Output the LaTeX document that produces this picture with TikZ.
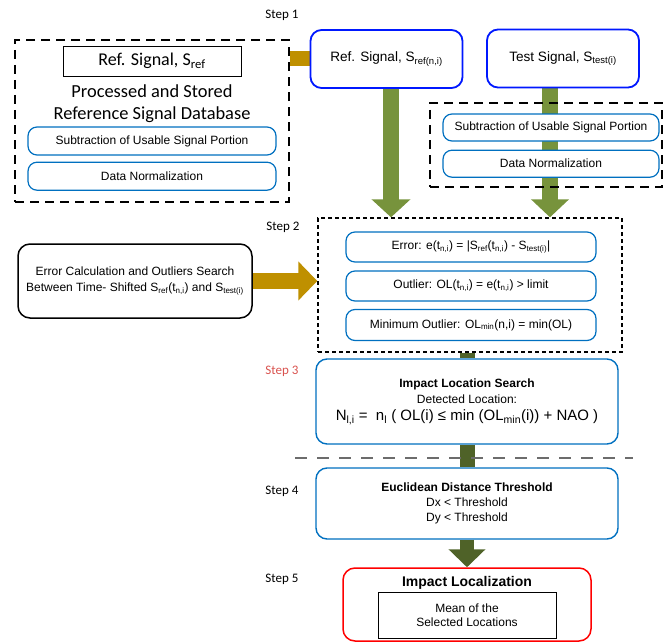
\documentclass[tikz,border=0pt]{standalone}
\usepackage{fontspec}
\setmainfont{Liberation Sans}
\newfontfamily\calfont{Carlito}
\usetikzlibrary{positioning,arrows.meta,backgrounds,calc}

\definecolor{boxblue}{RGB}{0,112,192}
\definecolor{sigblue}{RGB}{0,24,255}
\definecolor{goldbar}{RGB}{191,144,0}
\definecolor{ltgreen}{RGB}{119,147,60}
\definecolor{dkgreen}{RGB}{79,98,40}
\definecolor{steptxt}{RGB}{217,83,79}
\newcommand\sub[1]{\textsubscript{#1}}

\tikzset{
  stepbox/.style = {draw=boxblue, line width=1.2pt, rounded corners=9pt, fill=white,
                    minimum width=248pt, minimum height=28pt, inner sep=0pt,
                    font=\fontsize{12}{14}\selectfont},
  sigbox/.style  = {draw=sigblue, line width=1.8pt, rounded corners=11pt, fill=white,
                    minimum width=152pt, minimum height=58pt, inner sep=0pt,
                    font=\fontsize{13.6}{15}\selectfont},
  bigbox/.style  = {draw=boxblue, line width=1.4pt, rounded corners=11pt, fill=white,
                    minimum width=302pt, inner sep=0pt, align=center},
  dashbox/.style = {draw, line width=1.4pt, dash pattern=on 9pt off 6pt,
                    inner sep=0pt},
  steplbl/.style = {font=\calfont\fontsize{13}{14}\selectfont},
  fatshaft/.style= {line width=15pt},
}

\begin{document}
\begin{tikzpicture}[x=1pt,y=-1pt]
 \useasboundingbox (0,0) rectangle (667,642);

 % step 1
 \node[steplbl,name=lblA] at (282,15) {Step 1};
 \node[dashbox,name=dbox,minimum width=274pt,minimum height=162pt] at (152,121) {};
 \node[draw,line width=0.8pt,name=srefbox,minimum width=178pt,minimum height=30pt,
       font=\calfont\fontsize{18}{19}\selectfont] at (152,61) {Ref. Signal, S\sub{ref}};
 \node[name=dbtitle,align=center,font=\calfont\fontsize{18.4}{22}\selectfont] at (152,104)
      {Processed and Stored\\Reference Signal Database};
 \node[stepbox,name=subl] at (152,141) {Subtraction of Usable Signal Portion};
 \node[stepbox,name=norml,below=6pt of subl] {Data Normalization};

 \node[sigbox,name=refsig ] at (386.5,59) {Ref. Signal, S\sub{ref(n,i)}};
 \node[sigbox,name=testsig] at (563,58.5) {Test Signal, S\sub{test(i)}};
 \node[dashbox,name=tbox,minimum width=232pt,minimum height=84pt] at (546,145) {};
 \node[stepbox,name=subr,minimum width=216pt,minimum height=27pt] at (551,127.5)
      {Subtraction of Usable Signal Portion};
 \node[stepbox,name=normr,minimum width=216pt,minimum height=27pt,below=8pt of subr]
      {Data Normalization};

 % step 2
 \node[steplbl,name=lblB] at (283,227) {Step 2};
 \node[dashbox,name=stepb,dash pattern=on 4pt off 3pt,minimum width=304pt,
       minimum height=134pt] at (470,285) {};
 \node[stepbox,name=err, minimum width=250pt,minimum height=30pt] at (471,247)
      {Error: e(t\sub{n,i}) = |S\sub{ref}(t\sub{n,i}) - S\sub{test(i)}|};
 \node[stepbox,name=outl,minimum width=250pt,minimum height=30pt] at (471,286)
      {Outlier: OL(t\sub{n,i}) = e(t\sub{n,i}) > limit};
 \node[stepbox,name=minol,minimum width=250pt,minimum height=31pt] at (471,325)
      {Minimum Outlier: OL\sub{min}(n,i) = min(OL)};
 \node[draw,line width=1.5pt,rounded corners=12pt,name=errcalc,minimum width=234pt,
       minimum height=74pt,align=center,font=\fontsize{12}{16}\selectfont] at (135,281)
      {Error Calculation and Outliers Search\\Between Time- Shifted S\sub{ref}(t\sub{n,i}) and S\sub{test(i)}};

 % step 3
 \node[steplbl,name=lblC,text=steptxt] at (282,371) {Step 3};
 \node[bigbox,name=impact,minimum height=85pt,font=\fontsize{12}{16}\selectfont] at (467,401.5)
      {\textbf{Impact Location Search}\\Detected Location:\\[1pt]
       {\fontsize{15}{17}\selectfont N\sub{l,i} =\ \ n\sub{l} ( OL(i) ≤\ min (OL\sub{min}(i)) + NAO )}};

 % step 4
 \node[steplbl,name=lblD] at (282,491) {Step 4};
 \node[bigbox,name=eucl,minimum height=71pt,font=\fontsize{12}{15}\selectfont] at (467,503.5)
      {\textbf{Euclidean Distance Threshold}\\Dx < Threshold\\Dy < Threshold};

 % step 5
 \node[steplbl,name=lblE] at (282,579) {Step 5};
 \node[draw=red,line width=1.5pt,rounded corners=12pt,fill=white,name=loc,minimum width=248pt,
       minimum height=73pt] at (467,604.5) {};
 \node[name=loctitle,font=\bfseries\fontsize{14}{16}\selectfont] at (467,583) {Impact Localization};
 \node[draw,line width=0.8pt,name=mean,minimum width=178pt,minimum height=46pt,align=center,
       font=\fontsize{12}{14}\selectfont] at (467,615) {Mean of the\\Selected Locations};

 \draw[gray!85!black,line width=1.3pt,dash pattern=on 12pt off 10pt] (295,458) -- (633,458);

 \begin{scope}[on background layer]
  \draw[goldbar,fatshaft] (dbox.east |- refsig.west) -- (refsig.west);
  \draw[goldbar,line width=16pt,-{Triangle[width=38pt,length=19pt]}] (errcalc.east) -- (errcalc.east -| stepb.west);
  \draw[ltgreen,line width=16pt,-{Triangle[width=38pt,length=18pt]}]
       ($(refsig.south)+(4.5,0)$) -- ($(refsig.south |- stepb.north)+(4.5,0)$);
  \draw[ltgreen,line width=16pt,-{Triangle[width=37pt,length=18pt]}]
       ($(testsig.south)+(-13,0)$) -- ($(testsig.south |- stepb.north)+(-13,0)$);
  \draw[dkgreen,fatshaft] (stepb.south -| impact.north) -- (impact.north);
  \draw[dkgreen,fatshaft] (impact.south) -- (eucl.north);
  \draw[dkgreen,line width=14pt,-{Triangle[width=36pt,length=18pt]}] (eucl.south) -- (loc.north);
 \end{scope}
\end{tikzpicture}
\end{document}
